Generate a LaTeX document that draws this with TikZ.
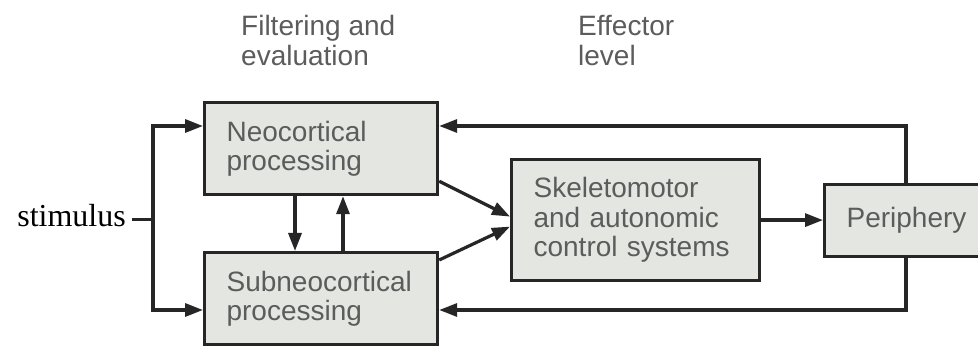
\documentclass[tikz,border=0pt]{standalone}
\usepackage{fontspec}
\setmainfont{Liberation Sans}
\newfontfamily\stimfont{Liberation Serif}
\usetikzlibrary{arrows.meta}
\definecolor{boxfill}{HTML}{E3E6E1}
\definecolor{boxline}{HTML}{262626}
\definecolor{boxtext}{HTML}{5C5C5C}
\begin{document}
\begin{tikzpicture}[x=1pt,y=-1pt,
  block/.style={draw=boxline, fill=boxfill, line width=3.2pt, text=boxtext,
    font=\fontsize{28}{29.5}\selectfont, align=left, inner xsep=22pt,
    inner ysep=0pt, anchor=north west},
  heading/.style={text=boxtext, font=\fontsize{28}{30}\selectfont,
    align=left, inner sep=0pt, anchor=north west},
  wire/.style={draw=boxline, line width=3.2pt},
  tip/.tip={Triangle[length=18pt,width=13pt]},
  flow/.style={wire, -tip},
  bothflow/.style={wire, tip-tip}
]
\clip (0,0) rectangle (978,347);
\fill[white] (0,0) rectangle (978,347);

% column headings
\node[heading] (hfilter) at (241,15) {Filtering and\\evaluation};
\node[heading] (heffect) at (578,15) {Effector\\level};

% processing blocks
\node[block, text width=189pt, minimum width=233pt, minimum height=92pt]
  (neo) at (203,101) {Neocortical\\processing};
\node[block, text width=189pt, minimum width=233pt, minimum height=92pt]
  (sub) at (203,251) {Subneocortical\\processing};
\node[block, text width=204pt, minimum width=248pt, minimum height=121pt]
  (ske) at (510,158) {Skeletomotor\\and autonomic\\control systems};
\node[block, text width=128pt, minimum width=172pt, minimum height=72pt]
  (per) at (823,183) {Periphery};

% stimulus input and its split
\node[font=\stimfont\fontsize{32}{36}\selectfont, anchor=base east, inner sep=0pt]
  (stim) at (126,227) {stimulus};
\coordinate (jt) at (153,126);
\coordinate (jb) at (153,310);
\coordinate (tk) at ([xshift=6pt,yshift=-3.5pt]stim.east);
\draw[wire] (tk) -- (tk -| jt);
\draw[bothflow, line join=miter] (neo.west |- jt) -- (jt) -- (jb) -- (sub.west |- jb);

% exchange between the two processing levels
\draw[flow] (neo.south -| 295,0) -- (sub.north -| 295,0);
\draw[flow] (sub.north -| 343,0) -- (neo.south -| 343,0);

% convergence on the effector level
\draw[flow] ([yshift=15pt]neo.south east) -- ([yshift=3.5pt]ske.west);
\draw[flow] ([yshift=-9pt]sub.north east) -- ([yshift=-6.5pt]ske.west);
\draw[flow] (ske.east) -- (ske.east -| per.west);

% feedback from the periphery
\coordinate (fb) at (906,0);
\draw[flow, line join=miter] (fb |- per.north) -- (fb |- jt) -- (neo.east |- jt);
\draw[flow, line join=miter] (fb |- per.south) -- (fb |- jb) -- (sub.east |- jb);
\end{tikzpicture}
\end{document}
